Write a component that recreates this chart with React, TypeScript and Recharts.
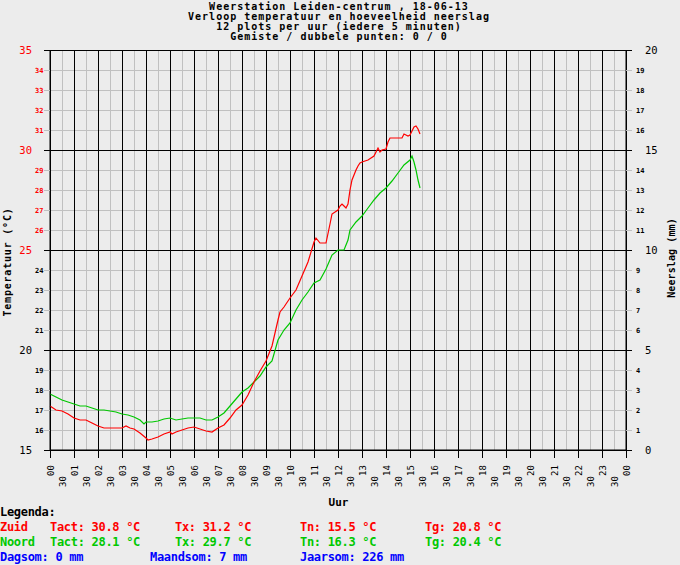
import { LineChart, Line, XAxis, YAxis, CartesianGrid, ReferenceLine } from 'recharts'

const zuidTimes = [
  '00:00', '00:15', '00:30', '00:45', '01:00', '01:15', '01:30', '01:45', '02:00', '02:15',
  '02:30', '02:45', '03:00', '03:10', '03:20', '03:30', '03:45', '04:00', '04:05', '04:15',
  '04:30', '04:45', '05:00', '05:05', '05:15', '05:30', '05:45', '06:00', '06:15', '06:30',
  '06:45', '07:00', '07:15', '07:30', '07:45', '08:00', '08:15', '08:30', '08:45', '09:00',
  '09:15', '09:30', '09:35', '09:45', '10:00', '10:15', '10:30', '10:45', '11:00', '11:05',
  '11:15', '11:30', '11:40', '11:45', '12:00', '12:05', '12:10', '12:15', '12:20', '12:25',
  '12:30', '12:35', '12:40', '12:45', '12:50', '12:55', '13:00', '13:15', '13:30', '13:40',
  '13:45', '13:50', '14:00', '14:05', '14:10', '14:40', '14:45', '14:55', '15:00', '15:05',
  '15:10', '15:15', '15:20', '15:25',
]
const zuidTemps = [
  17.2, 17.0, 16.95, 16.8, 16.6, 16.5, 16.5, 16.35, 16.2, 16.1,
  16.1, 16.1, 16.1, 16.2, 16.1, 16.05, 15.85, 15.6, 15.5, 15.55,
  15.65, 15.8, 15.9, 15.8, 15.9, 16.0, 16.1, 16.15, 16.05, 15.95,
  15.9, 16.1, 16.25, 16.6, 17.0, 17.25, 17.75, 18.4, 18.95, 19.45,
  20.2, 21.5, 21.9, 22.15, 22.6, 23.0, 23.7, 24.4, 25.4, 25.6,
  25.35, 25.35, 26.3, 26.8, 27.0, 27.2, 27.3, 27.2, 27.1, 27.3,
  28.0, 28.5, 28.75, 29.0, 29.2, 29.35, 29.4, 29.5, 29.7, 30.1,
  29.9, 30.0, 30.05, 30.4, 30.6, 30.6, 30.8, 30.7, 30.75, 30.95,
  31.15, 31.2, 31.05, 30.8,
]

const noordTimes = [
  '00:00', '00:15', '00:30', '00:45', '01:00', '01:15', '01:30', '01:45', '02:00', '02:15',
  '02:30', '02:45', '03:00', '03:15', '03:30', '03:45', '03:55', '04:00', '04:15', '04:30',
  '04:45', '05:00', '05:15', '05:30', '05:45', '06:00', '06:15', '06:30', '06:45', '07:00',
  '07:15', '07:30', '07:45', '08:00', '08:15', '08:30', '08:45', '09:00', '09:15', '09:30',
  '09:45', '10:00', '10:15', '10:30', '10:45', '11:00', '11:15', '11:30', '11:45', '12:00',
  '12:15', '12:25', '12:30', '12:45', '13:00', '13:15', '13:30', '13:45', '14:00', '14:15',
  '14:30', '14:45', '15:00', '15:05', '15:10', '15:15', '15:20', '15:25',
]
const noordTemps = [
  17.8, 17.65, 17.5, 17.4, 17.3, 17.2, 17.2, 17.1, 17.0, 17.0,
  16.95, 16.9, 16.8, 16.75, 16.65, 16.5, 16.3, 16.4, 16.4, 16.45,
  16.55, 16.6, 16.5, 16.55, 16.6, 16.6, 16.6, 16.5, 16.5, 16.65,
  16.85, 17.2, 17.55, 17.9, 18.1, 18.4, 18.7, 19.15, 19.45, 20.5,
  21.0, 21.35, 22.0, 22.5, 22.9, 23.35, 23.5, 24.05, 24.75, 25.0,
  25.0, 25.5, 26.0, 26.4, 26.7, 27.1, 27.5, 27.85, 28.1, 28.45,
  28.85, 29.25, 29.5, 29.7, 29.4, 29.0, 28.5, 28.1,
]

// neerslag vandaag: 0 mm (dagsom), de lijn valt samen met de as
const rainTimes = ['00:00', '15:25']
const rainAmounts = [0, 0]

const hourLabels = [
  '00', '01', '02', '03', '04', '05', '06', '07', '08', '09', '10', '11', '12',
  '13', '14', '15', '16', '17', '18', '19', '20', '21', '22', '23', '00',
]
const tempTicks = [15, 16, 17, 18, 19, 20, 21, 22, 23, 24, 25, 26, 27, 28, 29, 30, 31, 32, 33, 34, 35]
const rainTicks = [0, 1, 2, 3, 4, 5, 6, 7, 8, 9, 10, 11, 12, 13, 14, 15, 16, 17, 18, 19, 20]

const titleLines = [
  'Weerstation Leiden-centrum , 18-06-13',
  'Verloop temperatuur en hoeveelheid neerslag',
  '12 plots per uur (iedere 5 minuten)',
  'Gemiste / dubbele punten: 0 / 0',
]
const zuidStats = ['Zuid', 'Tact: 30.8 °C', 'Tx: 31.2 °C', 'Tn: 15.5 °C', 'Tg: 20.8 °C']
const noordStats = ['Noord', 'Tact: 28.1 °C', 'Tx: 29.7 °C', 'Tn: 16.3 °C', 'Tg: 20.4 °C']
const rainStats = ['Dagsom: 0 mm', 'Maandsom: 7 mm', 'Jaarsom: 226 mm']

const RED = '#ff0000'
const GREEN = '#00c800'
const BLUE = '#0000ff'
const GRAY = '#c0c0c0'
const BG = '#ececec'
const MONO = '"DejaVu Sans Mono", monospace'

const PLOT_LEFT = 50
const PLOT_RIGHT = 626
const PLOT_BOTTOM = 450

const toHours = (s: string) => {
  const [h, m] = s.split(':').map(Number)
  return h + m / 60
}

const zuidData = zuidTimes.map((t, i) => ({ t: toHours(t), temp: zuidTemps[i] }))
const noordData = noordTimes.map((t, i) => ({ t: toHours(t), temp: noordTemps[i] }))
const rainData = rainTimes.map((t, i) => ({ t: toHours(t), mm: rainAmounts[i] }))
const xTicks = hourLabels.flatMap((_, i) => (i < 24 ? [i, i + 0.5] : [i]))
const hours = hourLabels.map((_, i) => i)
const majorTemps = tempTicks.filter((v) => v % 5 === 0)
const minorTemps = tempTicks.filter((v) => v % 5 !== 0)

function TimeTick(props: any) {
  const { x, payload } = props
  const v = payload.value as number
  const isHour = Number.isInteger(v)
  if (isHour) {
    return (
      <g>
        <line x1={x} x2={x} y1={PLOT_BOTTOM} y2={PLOT_BOTTOM + 8} stroke="#000" shapeRendering="crispEdges" />
        <text
          x={x + 3.5}
          y={PLOT_BOTTOM + 26}
          transform={`rotate(-90, ${x + 3.5}, ${PLOT_BOTTOM + 26})`}
          fontFamily={MONO}
          fontSize={9}
          fill="#000"
        >
          {hourLabels[v]}
        </text>
      </g>
    )
  }
  return (
    <text
      x={x + 3.5}
      y={PLOT_BOTTOM + 37}
      transform={`rotate(-90, ${x + 3.5}, ${PLOT_BOTTOM + 37})`}
      fontFamily={MONO}
      fontSize={9}
      fill="#000"
    >
      30
    </text>
  )
}

function TempTick(props: any) {
  const { y, payload } = props
  const v = payload.value as number
  const major = v % 5 === 0
  const color = v >= 25 ? RED : '#000'
  return (
    <g>
      <line x1={PLOT_LEFT - 6} x2={PLOT_LEFT} y1={y} y2={y} stroke={major ? '#000' : GRAY} shapeRendering="crispEdges" />
      {major ? (
        <text x={32} y={y + 4} textAnchor="end" fontFamily={MONO} fontSize={10.5} fill={color}>
          {v}
        </text>
      ) : (
        <text x={43.5} y={y + 3} textAnchor="end" fontFamily={MONO} fontSize={7} fontWeight="bold" fill={color}>
          {v}
        </text>
      )}
    </g>
  )
}

function RainTick(props: any) {
  const { y, payload } = props
  const v = payload.value as number
  const major = v % 5 === 0
  return (
    <g>
      <line x1={PLOT_RIGHT} x2={PLOT_RIGHT + 6} y1={y} y2={y} stroke={major ? '#000' : GRAY} shapeRendering="crispEdges" />
      {major ? (
        <text x={645} y={y + 4} fontFamily={MONO} fontSize={10.5} fill="#000">
          {v}
        </text>
      ) : (
        <text x={636} y={y + 3} fontFamily={MONO} fontSize={7} fontWeight="bold" fill="#000">
          {v}
        </text>
      )}
    </g>
  )
}

const statCols = [0, 50, 175, 300, 425]
const rainCols = [0, 150, 300]

export default function App() {
  return (
    <div style={{ position: 'absolute', left: 0, top: 0, width: 680, height: 565, background: BG }}>
      <LineChart width={680} height={565} margin={{ top: 50, right: 0, bottom: 0, left: 0 }}>
        <CartesianGrid yAxisId="temp" horizontal={false} stroke={GRAY} shapeRendering="crispEdges" />
        <XAxis
          dataKey="t"
          type="number"
          domain={[0, 24]}
          ticks={xTicks}
          interval={0}
          height={115}
          axisLine={{ stroke: '#000' }}
          tickLine={false}
          tick={<TimeTick />}
        />
        <YAxis
          yAxisId="temp"
          type="number"
          domain={[15, 35]}
          ticks={tempTicks}
          interval={0}
          width={50}
          axisLine={{ stroke: '#000' }}
          tickLine={false}
          tick={<TempTick />}
        />
        <YAxis
          yAxisId="rain"
          orientation="right"
          type="number"
          domain={[0, 20]}
          ticks={rainTicks}
          interval={0}
          width={54}
          axisLine={{ stroke: '#000' }}
          tickLine={false}
          tick={<RainTick />}
        />
        {minorTemps.map((v) => (
          <ReferenceLine key={`m${v}`} y={v} yAxisId="temp" stroke={GRAY} shapeRendering="crispEdges" />
        ))}
        {hours.map((h) => (
          <ReferenceLine key={`h${h}`} x={h} yAxisId="temp" stroke="#000" shapeRendering="crispEdges" />
        ))}
        {majorTemps.map((v) => (
          <ReferenceLine key={`t${v}`} y={v} yAxisId="temp" stroke="#000" shapeRendering="crispEdges" />
        ))}
        <Line
          yAxisId="rain"
          data={rainData}
          dataKey="mm"
          type="linear"
          stroke="none"
          dot={false}
          isAnimationActive={false}
        />
        <Line
          yAxisId="temp"
          data={noordData}
          dataKey="temp"
          type="linear"
          stroke={GREEN}
          strokeWidth={1.2}
          dot={false}
          isAnimationActive={false}
        />
        <Line
          yAxisId="temp"
          data={zuidData}
          dataKey="temp"
          type="linear"
          stroke={RED}
          strokeWidth={1.2}
          dot={false}
          isAnimationActive={false}
        />
      </LineChart>
      <svg
        width={680}
        height={565}
        style={{ position: 'absolute', left: 0, top: 0, pointerEvents: 'none' }}
        fontFamily={MONO}
        fontWeight="bold"
      >
        {titleLines.map((line, i) => (
          <text key={line} x={339} y={10 + i * 10} textAnchor="middle" fontSize={10} letterSpacing={1} fill="#000">
            {line}
          </text>
        ))}
        <text
          transform="translate(7.5, 262) rotate(-90)"
          textAnchor="middle"
          dominantBaseline="central"
          fontSize={10}
          letterSpacing={0.8}
          fill="#000"
        >
          Temperatuur (°C)
        </text>
        <text
          transform="translate(671.5, 258) rotate(-90)"
          textAnchor="middle"
          dominantBaseline="central"
          fontSize={10}
          letterSpacing={0.1}
          fill="#000"
        >
          Neerslag (mm)
        </text>
        <text x={338.5} y={506} textAnchor="middle" fontSize={11} fill="#000">
          Uur
        </text>
        <text x={0} y={516} fontSize={12} letterSpacing={-0.3} fill="#000">
          Legenda:
        </text>
        {zuidStats.map((s, i) => (
          <text key={s} x={statCols[i]} y={531} fontSize={12} letterSpacing={-0.3} fill={RED}>
            {s}
          </text>
        ))}
        {noordStats.map((s, i) => (
          <text key={s} x={statCols[i]} y={546} fontSize={12} letterSpacing={-0.3} fill={GREEN}>
            {s}
          </text>
        ))}
        {rainStats.map((s, i) => (
          <text key={s} x={rainCols[i]} y={561} fontSize={12} letterSpacing={-0.3} fill={BLUE}>
            {s}
          </text>
        ))}
      </svg>
    </div>
  )
}
